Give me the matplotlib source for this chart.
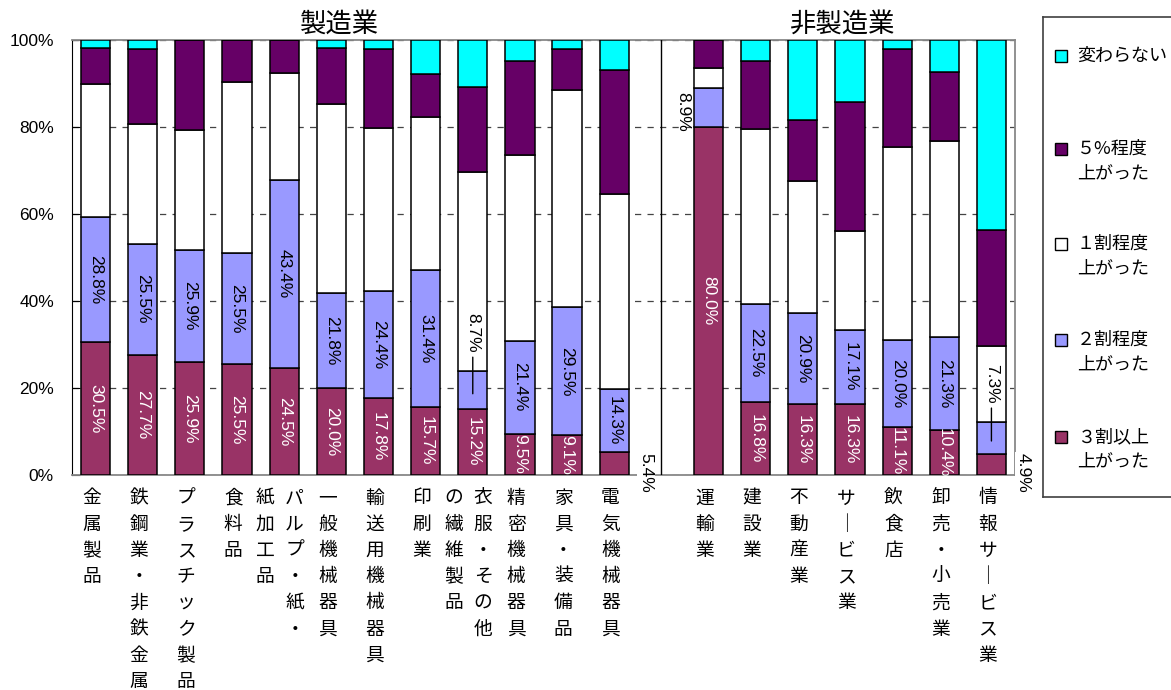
import numpy as np
import matplotlib
matplotlib.use('Agg')
import matplotlib.pyplot as plt
from matplotlib.patches import Rectangle
from matplotlib.transforms import blended_transform_factory

plt.rcParams['font.family'] = ['Noto Sans CJK JP', 'DejaVu Sans']

# 業種名（縦書き、列は右から左の順）
industries = [
    ['金属製品'], ['鉄鋼業・非鉄金属'], ['プラスチック製品'], ['食料品'],
    ['パルプ・紙・', '紙加工品'], ['一般機械器具'], ['輸送用機械器具'], ['印刷業'],
    ['衣服・その他', 'の繊維製品'], ['精密機械器具'], ['家具・装備品'], ['電気機械器具'],
    ['運輸業'], ['建設業'], ['不動産業'], ['サービス業'], ['飲食店'],
    ['卸売・小売業'], ['情報サービス業'],
]
n_mfg = 12
groups = ['製造業', '非製造業']

answers = ['３割以上\n上がった', '２割程度\n上がった', '１割程度\n上がった',
           '５%程度\n上がった', '変わらない']
colors = ['#993366', '#9999FF', '#FFFFFF', '#660066', '#00FFFF']

# 回答割合 (%)
up30 = [30.5, 27.7, 25.9, 25.5, 24.5, 20.0, 17.8, 15.7, 15.2, 9.5, 9.1, 5.4,
        80.0, 16.8, 16.3, 16.3, 11.1, 10.4, 4.9]
up20 = [28.8, 25.5, 25.9, 25.5, 43.4, 21.8, 24.4, 31.4, 8.7, 21.4, 29.5, 14.3,
        8.9, 22.5, 20.9, 17.1, 20.0, 21.3, 7.3]
up10 = [30.6, 27.4, 27.5, 39.3, 24.6, 43.6, 37.6, 35.3, 45.8, 42.7, 49.9, 44.8,
        4.6, 40.2, 30.4, 22.8, 44.4, 45.1, 17.5]
up5 = [8.3, 17.3, 20.7, 9.7, 7.5, 12.8, 18.1, 9.8, 19.4, 21.6, 9.4, 28.5,
       6.5, 15.7, 14.0, 29.5, 22.4, 15.8, 26.6]
same = [1.8, 2.1, 0.0, 0.0, 0.0, 1.8, 2.1, 7.8, 10.9, 4.8, 2.1, 7.0,
        0.0, 4.8, 18.4, 14.3, 2.1, 7.4, 43.7]

series = [up30, up20, up10, up5, same]

# 製造業と非製造業の間に1本分の区切りを入れる
xpos = np.r_[np.arange(n_mfg), np.arange(n_mfg + 1, len(industries) + 1)]

fig = plt.figure(figsize=(11.71, 6.9), dpi=100)
W, H = 1171, 690
ax = fig.add_axes([72 / W, 1 - 475 / H, (1015 - 72) / W, 435 / H])

bottom = np.zeros(len(industries))
for vals, c in zip(series, colors):
    ax.bar(xpos, vals, bottom=bottom, width=0.62, color=c, edgecolor='black',
           linewidth=1.1, zorder=3)
    bottom = bottom + np.array(vals)

ax.set_xlim(-0.5, len(industries) + 0.5)
ax.set_ylim(0, 100)
ax.set_yticks(np.arange(0, 101, 20))
ax.set_yticklabels([f'{v}%' for v in range(0, 101, 20)], family='Liberation Sans',
                   fontsize=12.5)
ax.set_xticks([])
ax.tick_params(axis='y', direction='in', length=6, pad=13)
ax.yaxis.grid(True, linestyle=(0, (5, 5)), color='#444444', linewidth=0.9)
ax.set_axisbelow(True)
for s in ['top', 'right', 'bottom']:
    ax.spines[s].set_color('#888888')
    ax.spines[s].set_linewidth(1.3)
ax.spines['left'].set_color('black')
ax.axvline(n_mfg, color='black', linewidth=1, zorder=4)

# 数値ラベル（3割以上：白字、2割程度：黒字）
num_font = dict(family='Liberation Sans', fontsize=12.5, rotation=-90,
                ha='center', va='center')
outside = {(8, 1): 'leader', (18, 1): 'leader', (11, 0): 'right',
           (18, 0): 'right', (12, 1): 'left'}
low = np.zeros(len(industries))
for k, (vals, tc) in enumerate(zip(series[:2], ['white', 'black'])):
    for i, v in enumerate(vals):
        x = xpos[i]
        txt = f'{v:.1f}%'
        mode = outside.get((i, k))
        if mode == 'leader':
            ax.annotate(txt, xy=(x, low[i] + 0.4 * v), xytext=(x, low[i] + v + 8.7),
                        color='black', zorder=6,
                        arrowprops=dict(arrowstyle='-', color='black', lw=1,
                                        shrinkA=1, shrinkB=0), **num_font)
        elif mode == 'right':
            ax.text(x + 0.68, low[i] + v * 0.1, txt, color='black', zorder=6,
                    clip_on=False,
                    bbox=dict(facecolor='white', edgecolor='none', pad=1), **num_font)
        elif mode == 'left':
            ax.text(x - 0.54, low[i] + v * 0.4, txt, color='black', zorder=6,
                    **num_font)
        else:
            ax.text(x, low[i] + v / 2, txt, color=tc, zorder=6, **num_font)
    low = low + np.array(vals)

# 業種名（一文字ずつ縦に並べる）
tr = blended_transform_factory(ax.transData, fig.transFigure)
for i, cols in enumerate(industries):
    n = len(cols)
    for j, col in enumerate(cols):
        dx = 0.0 if n == 1 else (0.3 - 0.62 * j)
        for r, ch in enumerate(col.replace('ー', '｜')):
            fig.text(xpos[i] + dx - 0.08, 1 - (498 + 26.2 * r) / H, ch,
                     transform=tr, ha='center', va='center', fontsize=13.5)

# グループ見出し
fig.text(340 / W, 1 - 24 / H, groups[0], ha='center', va='center', fontsize=19)
fig.text(843 / W, 1 - 24 / H, groups[1], ha='center', va='center', fontsize=19)

# 凡例
lax = fig.add_axes([1043 / W, 1 - 497 / H, 140 / W, 480 / H])
lax.set_xlim(1043, 1183)
lax.set_ylim(497, 17)
lax.set_xticks([])
lax.set_yticks([])
for s in lax.spines.values():
    s.set_color('#404040')
    s.set_linewidth(1.2)
marker_y = [56, 149, 244, 340, 437]
for yy, lab, c in zip(marker_y, answers[::-1], colors[::-1]):
    lax.add_patch(Rectangle((1055, yy - 6), 12, 12, facecolor=c,
                            edgecolor='black', linewidth=1))
    for j, line in enumerate(lab.split('\n')):
        lax.text(1077, yy + 24 * j, line, ha='left', va='center', fontsize=13)

fig.savefig('out.png', dpi=100)
